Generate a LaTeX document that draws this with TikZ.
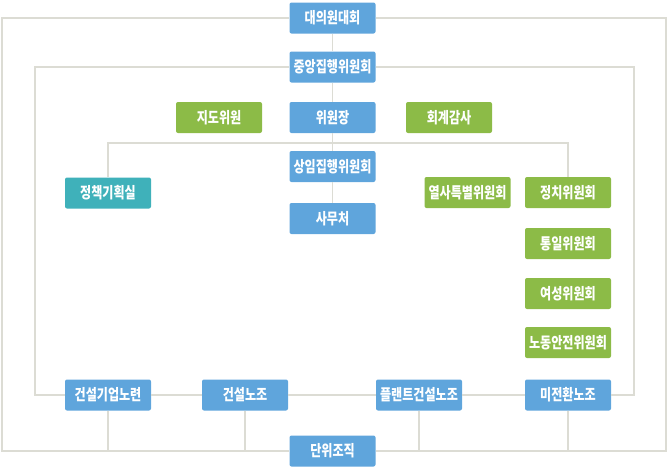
\documentclass[tikz,border=0pt]{standalone}
\usepackage{fontspec}
\setmainfont{Noto Sans CJK KR}[FakeStretch=0.78]
\definecolor{bluebox}{HTML}{5FA5DC}
\definecolor{greenbox}{HTML}{8CBB47}
\definecolor{tealbox}{HTML}{3FB1BA}
\definecolor{linegray}{HTML}{DCDCD4}
\begin{document}
\begin{tikzpicture}[x=1pt,y=-1pt,
  box/.style={minimum width=86pt,minimum height=31pt,inner sep=0pt,rounded corners=2pt,text=white,font=\fontsize{15.5}{17}\selectfont\bfseries},
  bbox/.style={box,fill=bluebox},
  gbox/.style={box,fill=greenbox},
  tbox/.style={box,fill=tealbox},
  conn/.style={draw=linegray,line width=1.6pt}]
\useasboundingbox (0,0) rectangle (669,469);
\node[bbox] (dae) at (332.5,18) {대의원대회};
\node[bbox] (jung) at (332.5,67) {중앙집행위원회};
\node[gbox] (jido) at (219,117.5) {지도위원};
\node[bbox] (wiwon) at (332.5,117.5) {위원장};
\node[gbox] (hoe) at (449,117.5) {회계감사};
\node[bbox] (sang) at (332.5,166.5) {상임집행위원회};
\node[tbox] (jeong) at (108,193) {정책기획실};
\node[bbox] (samu) at (332.5,218.5) {사무처};
\node[gbox] (yeol) at (467.5,192.5) {열사특별위원회};
\node[gbox] (jeongchi) at (568,192.5) {정치위원회};
\node[gbox] (tong) at (568,243.5) {통일위원회};
\node[gbox] (yeo) at (568,293.5) {여성위원회};
\node[gbox] (nodong) at (568,342.5) {노동안전위원회};
\node[bbox] (geonki) at (108,395) {건설기업노련};
\node[bbox] (geonseol) at (245,395) {건설노조};
\node[bbox] (plant) at (419,395) {플랜트건설노조};
\node[bbox] (mijeon) at (568,395) {미전환노조};
\node[bbox] (danwi) at (332.5,451) {단위조직};
% outer frame
\coordinate (o1) at (2,18);
\coordinate (o2) at (2,451);
\coordinate (o3) at (666,18);
\coordinate (o4) at (666,451);
\draw[conn] (dae.west) -- (o1) -- (o2) -- (danwi.west);
\draw[conn] (dae.east) -- (o3) -- (o4) -- (danwi.east);
% second frame
\coordinate (s1) at (35,67);
\coordinate (s2) at (35,395);
\coordinate (s3) at (634,67);
\coordinate (s4) at (634,395);
\draw[conn] (jung.west) -- (s1) -- (s2) -- (geonki.west);
\draw[conn] (jung.east) -- (s3) -- (s4) -- (mijeon.east);
\draw[conn] (geonki.east) -- (geonseol.west);
\draw[conn] (geonseol.east) -- (plant.west);
\draw[conn] (plant.east) -- (mijeon.west);
% centre spine
\draw[conn] (dae.south) -- (jung.north);
\draw[conn] (jung.south) -- (wiwon.north);
\draw[conn] (wiwon.south) -- (sang.north);
\draw[conn] (sang.south) -- (samu.north);
% third bracket
\coordinate (t1) at (108,143);
\coordinate (t2) at (568,143);
\draw[conn] (jeong.north) -- (t1) -- (t2) -- (jeongchi.north);
% bottom drops
\draw[conn] (geonki.south) -- (geonki.south |- danwi);
\draw[conn] (geonseol.south) -- (geonseol.south |- danwi);
\draw[conn] (plant.south) -- (plant.south |- danwi);
\draw[conn] (mijeon.south) -- (mijeon.south |- danwi);
\end{tikzpicture}
\end{document}
